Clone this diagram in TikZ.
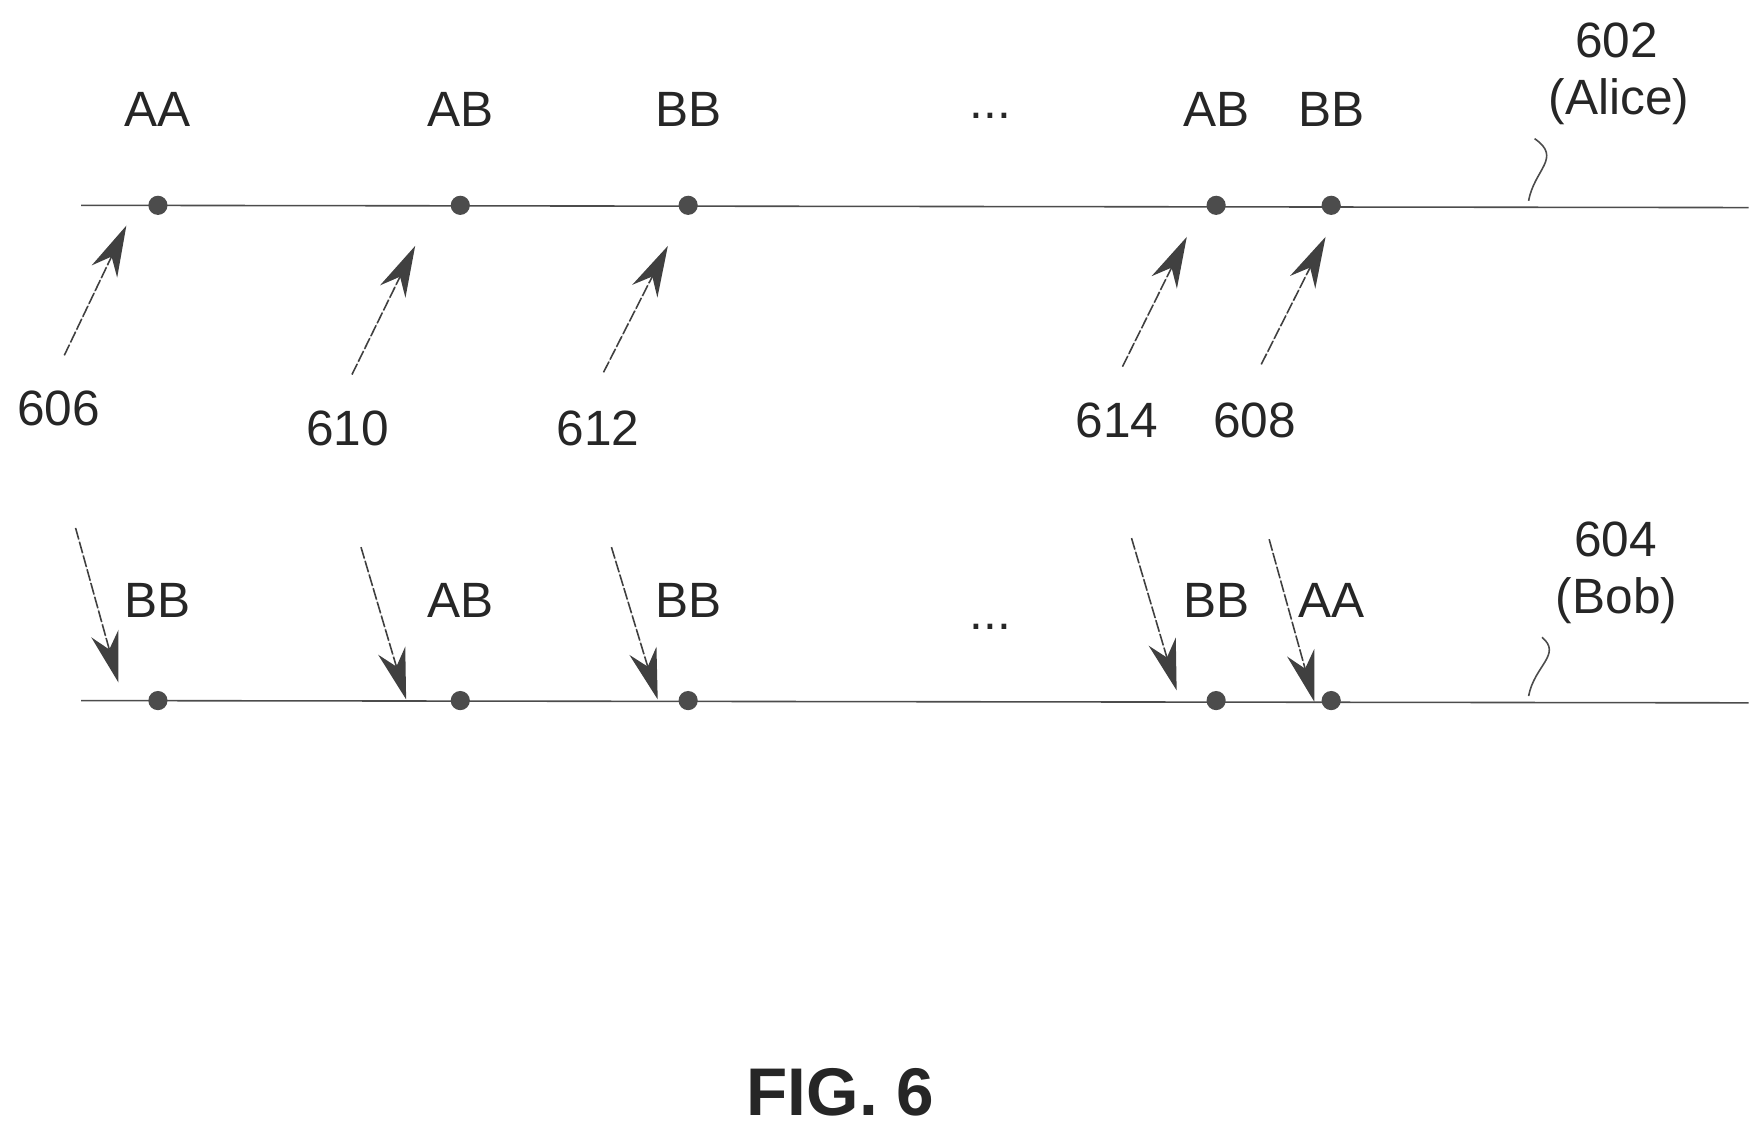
\documentclass[tikz,border=0pt]{standalone}
\usepackage{fontspec}
\setmainfont{Liberation Sans}
\usetikzlibrary{positioning}
\usetikzlibrary{arrows.meta}
\begin{document}
\begin{tikzpicture}[
    x=0.01cm, y=-0.01cm,
    >={Stealth[length=0.45cm, width=0.25cm]},
    % Define the style for the nodes
    dot/.style={circle, fill=black!70, minimum size=0.17cm, inner sep=0pt},
    lbl/.style={font=\fontsize{12.5}{15}\selectfont, text=black!85},
    ref/.style={->, draw=black!75, fill=black!60, thin, dashed, dash pattern=on 3pt off 0.6pt},
    track/.style={draw=black!70, thin}
]
    \useasboundingbox (0,0) rectangle (1561,1003);

    % time lines
    \coordinate (a0) at (72,182);   \coordinate (a9) at (1550,184);
    \coordinate (b0) at (72,621);   \coordinate (b9) at (1550,623);
    \draw[track] (a0) -- (a9);
    \draw[track] (b0) -- (b9);

    % events on both lines
    \foreach \x [count=\n] in {140, 408, 610, 1078, 1180} {
        \node[dot] (a\n) at (\x,182) {};
        \node[dot] (b\n) at (\x,621) {};
    }

    % Alice bases
    \foreach \n/\t in {1/AA, 2/AB, 3/BB, 4/AB, 5/BB} {
        \node[lbl, above=0.48cm of a\n] (ta\n) {\t};
    }
    \node[lbl] (adots) at (878,103) {...};

    % Bob bases
    \foreach \n/\t in {1/BB, 2/AB, 3/BB, 4/BB, 5/AA} {
        \node[lbl, above=0.52cm of b\n] (tb\n) {\t};
    }
    \node[lbl] (bdots) at (878,556) {...};

    % reference numerals
    \node[lbl] (n606) at (52,362) {606};
    \node[lbl] (n610) at (308,380) {610};
    \node[lbl] (n612) at (530,380) {612};
    \node[lbl] (n614) at (990,373) {614};
    \node[lbl] (n608) at (1112,373) {608};

    % arrows up to Alice
    \foreach \n/\sx/\sy/\ex/\ey in {1/57/315/112/200, 2/312/332/368/218,
        3/535/330/592/218, 4/995/325/1052/210, 5/1118/323/1175/210} {
        \coordinate (us\n) at (\sx,\sy);
        \coordinate (ue\n) at (\ex,\ey);
        \draw[ref] (us\n) -- (ue\n);
    }

    % arrows down to Bob
    \foreach \n/\sx/\sy/\ex/\ey in {1/67/468/105/605, 2/320/485/360/620,
        3/542/485/583/620, 4/1003/477/1043/612, 5/1125/478/1165/622} {
        \coordinate (ds\n) at (\sx,\sy);
        \coordinate (de\n) at (\ex,\ey);
        \draw[ref] (ds\n) -- (de\n);
    }

    % line labels
    \node[lbl] (n602) at (1433,36) {602};
    \node[lbl] (alice) at (1435,90) {(Alice)};
    \coordinate (la) at (1355,178);
    \draw[track] (la) .. controls (1360,150) and (1385,140) .. (alice.south west);
    \node[lbl] (n604) at (1432,478) {604};
    \node[lbl] (bob) at (1433,532) {(Bob)};
    \coordinate (lb) at (1355,617);
    \draw[track] (lb) .. controls (1360,590) and (1385,580) .. (bob.south west);

    \node[font=\fontsize{17}{20}\selectfont\bfseries, text=black!85] (fig) at (745,968) {FIG. 6};
\end{tikzpicture}
\end{document}
